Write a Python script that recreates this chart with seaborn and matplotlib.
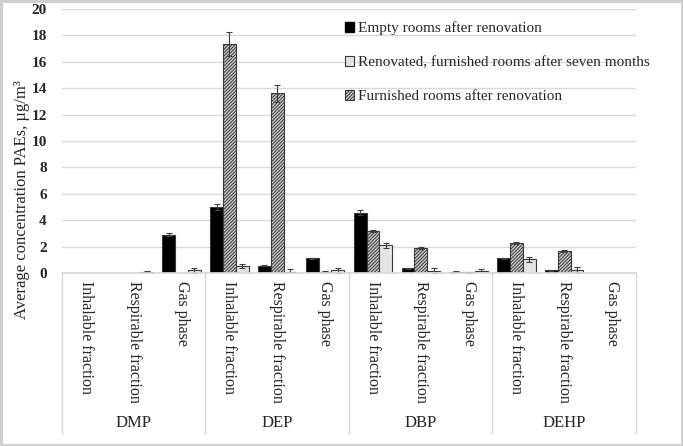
import numpy as np
import pandas as pd
import matplotlib
matplotlib.use('Agg')
import matplotlib.pyplot as plt
import matplotlib.transforms as mtransforms
from matplotlib.patches import Patch
import seaborn as sns

# Valores
compounds = ['DMP', 'DEP', 'DBP', 'DEHP']
fractions = ['Inhalable fraction', 'Respirable fraction', 'Gas phase']
series_names = ['Empty rooms after renovation',
                'Furnished rooms after renovation',
                'Renovated, furnished rooms after seven months']

empty = [0, 0, 2.9, 5.0, 0.55, 1.1, 4.57, 0.35, 0.1, 1.12, 0.2, 0]
empty_err = [0, 0, 0.1, 0.25, 0.05, 0.05, 0.2, 0.03, 0.02, 0.05, 0.02, 0]
furnished = [0, 0, 0, 17.35, 13.6, 0.1, 3.17, 1.87, 0.05, 2.25, 1.7, 0]
furnished_err = [0, 0, 0, 0.88, 0.68, 0.02, 0.1, 0.08, 0.02, 0.08, 0.08, 0]
seven = [0, 0.05, 0.2, 0.5, 0.1, 0.2, 2.1, 0.18, 0.12, 1.04, 0.23, 0]
seven_err = [0, 0.1, 0.2, 0.15, 0.2, 0.2, 0.2, 0.2, 0.2, 0.2, 0.2, 0]

keys = [c + ' ' + f for c in compounds for f in fractions]
df = pd.concat([
    pd.DataFrame({'key': keys, 'value': vals, 'series': name})
    for name, vals in zip(series_names, [empty, furnished, seven])
])
errs = [empty_err, furnished_err, seven_err]

sns.set_theme(style='white')
plt.rcParams['font.family'] = ['Liberation Serif', 'DejaVu Serif']
plt.rcParams['hatch.linewidth'] = 0.7

fig = plt.figure(figsize=(6.83, 4.46), dpi=100)
fig.patch.set_edgecolor('#d0d0d0')
fig.patch.set_linewidth(2.5)
ax = fig.add_axes([62 / 683, 1 - 273 / 446, 574 / 683, 264 / 446])

HATCH = '//////////'
palette = {series_names[0]: 'black', series_names[1]: '#c8c8c8', series_names[2]: '#e4e4e4'}
sns.barplot(data=df, x='key', y='value', hue='series', order=keys, hue_order=series_names,
            palette=palette, width=0.8, errorbar=None, legend=False, ax=ax,
            edgecolor='#3a3a3a', linewidth=0.8, saturation=1)

bar_containers = list(ax.containers)
for i, cont in enumerate(bar_containers):
    for bar, e in zip(cont, errs[i]):
        if i == 1:
            bar.set_hatch(HATCH)
        if e > 0:
            ax.errorbar(bar.get_x() + bar.get_width() / 2, bar.get_height(), yerr=e,
                        fmt='none', ecolor='#404040', elinewidth=0.8, capsize=2.5, capthick=0.8)

ax.set_ylim(0, 20)
ax.set_xlim(-0.5, len(keys) - 0.5)
ax.set_yticks(np.arange(0, 21, 2))
ax.yaxis.grid(True, color='#d9d9d9', linewidth=1)
ax.set_axisbelow(True)
for s in ['top', 'right', 'left']:
    ax.spines[s].set_visible(False)
ax.spines['bottom'].set_color('#d9d9d9')
ax.tick_params(axis='y', length=0, pad=11, labelsize=11)
for t in ax.get_yticklabels():
    t.set_fontweight('bold')
ax.tick_params(axis='x', length=0, pad=6)
ax.set_xticks(range(len(keys)))
ax.set_xticklabels([f for c in compounds for f in fractions], rotation=270, fontsize=11.5, va='top')
ax.set_xlabel('')
ax.set_ylabel('')

# Separadores e nomes dos compostos abaixo do eixo
trans = mtransforms.blended_transform_factory(ax.transData, ax.transAxes)
for x in np.arange(-0.5, len(keys), 3):
    ax.plot([x, x], [0, -0.61], transform=trans, color='#d9d9d9', linewidth=1, clip_on=False)
for j, c in enumerate(compounds):
    ax.text(j * 3 + 1, -0.57, c, transform=trans, ha='center', va='center', fontsize=12)

fig.text(22 / 683, 1 - 200 / 446, 'Average concentration PAEs, µg/m³', rotation=90,
         ha='center', va='center', fontsize=12)

handles = [Patch(facecolor='black', edgecolor='black'),
           Patch(facecolor='#e4e4e4', edgecolor='#3a3a3a', linewidth=0.8),
           Patch(facecolor='#c8c8c8', edgecolor='#3a3a3a', linewidth=0.8, hatch=HATCH)]
labels = [series_names[0], series_names[2], series_names[1]]
fig.legend(handles, labels, loc='upper left', bbox_to_anchor=(337 / 683, 1 - 14 / 446),
           frameon=False, fontsize=11, handlelength=0.6, handleheight=0.6,
           handletextpad=0.25, labelspacing=1.35, borderpad=0)

fig.savefig('out.png', dpi=100)
